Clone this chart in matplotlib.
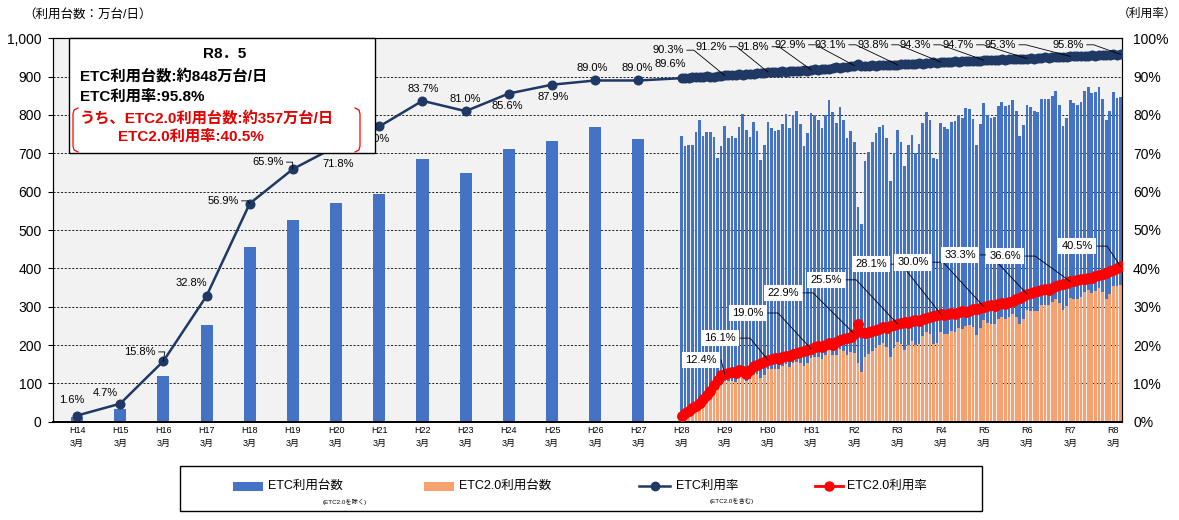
import numpy as np
import matplotlib
matplotlib.use('Agg')
import matplotlib.pyplot as plt
from matplotlib.patches import Rectangle
from matplotlib.lines import Line2D

plt.rcParams['font.family'] = ['Liberation Sans', 'Noto Sans CJK JP']

# ---- data ----
year_labels = ['H14', 'H15', 'H16', 'H17', 'H18', 'H19', 'H20', 'H21', 'H22', 'H23',
               'H24', 'H25', 'H26', 'H27', 'H28', 'H29', 'H30', 'H31', 'R2', 'R3',
               'R4', 'R5', 'R6', 'R7', 'R8']

# annual values H14.3 - H27.3
annual_etc_count = [13, 34, 120, 253, 456, 526, 570, 594, 685, 648, 711, 732, 768, 737]
annual_etc_rate = [1.6, 4.7, 15.8, 32.8, 56.9, 65.9, 71.8, 77.0, 83.7, 81.0, 85.6, 87.9, 89.0, 89.0]

# monthly values H28.3 - R8.5 (123 months)
monthly_etc_total = [
    746, 720, 722, 722, 756, 787, 746, 756, 756, 743,
    687, 720, 772, 740, 746, 740, 769, 803, 761, 743,
    782, 759, 683, 722, 782, 767, 759, 761, 777, 803,
    767, 800, 810, 776, 720, 753, 805, 800, 787, 766,
    800, 839, 808, 778, 821, 787, 741, 757, 730, 560,
    515, 679, 704, 730, 753, 769, 774, 741, 627, 702,
    761, 730, 668, 722, 748, 702, 725, 779, 808, 787,
    689, 686, 779, 769, 764, 782, 784, 800, 792, 818,
    816, 790, 722, 777, 831, 800, 792, 795, 823, 834,
    823, 826, 839, 810, 746, 774, 826, 821, 810, 808,
    841, 841, 841, 849, 862, 826, 772, 792, 839, 831,
    826, 834, 862, 873, 857, 859, 873, 841, 787, 810,
    859, 844, 848]

monthly_etc20_count = [
    12, 18, 23, 28, 35, 44, 50, 59, 67, 78, 84, 97, 106,
    105, 107, 103, 115, 117, 105, 111, 124, 124, 114, 123, 138,
    137, 138, 137, 144, 151, 143, 154, 157, 154, 145, 154, 167,
    169, 169, 163, 175, 187, 175, 175, 190, 184, 175, 181, 180,
    154, 130, 170, 177, 185, 193, 200, 205, 194, 168, 191, 208,
    202, 186, 200, 211, 199, 203, 224, 233, 230, 202, 204, 233,
    228, 228, 237, 235, 244, 243, 250, 252, 246, 226, 244, 264,
    257, 256, 255, 269, 274, 267, 274, 280, 274, 255, 268, 291,
    290, 289, 290, 304, 305, 305, 313, 320, 310, 291, 302, 322,
    321, 320, 325, 337, 344, 335, 342, 350, 338, 320, 333, 355, 353, 357]

monthly_etc_rate = [
    89.6, 89.7, 89.6, 89.8, 89.9, 89.8, 90.0, 90.1, 89.9, 90.0, 90.2, 90.1, 90.3,
    90.4, 90.3, 90.5, 90.6, 90.4, 90.7, 90.8, 90.6, 90.9, 91.0, 90.9, 91.2,
    91.1, 91.3, 91.2, 91.4, 91.3, 91.5, 91.4, 91.6, 91.5, 91.7, 91.6, 91.8,
    91.9, 91.8, 92.0, 92.1, 92.0, 92.3, 92.4, 92.3, 92.5, 92.6, 92.7, 92.9,
    93.2, 92.9, 92.8, 92.9, 93.0, 92.9, 93.0, 93.1, 93.0, 93.1, 93.0, 93.1,
    93.2, 93.3, 93.2, 93.4, 93.3, 93.5, 93.4, 93.6, 93.5, 93.7, 93.6, 93.8,
    93.8, 93.9, 93.8, 94.0, 93.9, 94.0, 94.1, 94.0, 94.2, 94.1, 94.2, 94.3,
    94.3, 94.4, 94.3, 94.4, 94.5, 94.4, 94.5, 94.6, 94.5, 94.6, 94.7, 94.7,
    94.8, 94.7, 94.9, 94.8, 95.0, 94.9, 95.0, 95.1, 95.0, 95.2, 95.1, 95.3,
    95.3, 95.4, 95.3, 95.5, 95.4, 95.6, 95.5, 95.6, 95.7, 95.6, 95.7, 95.8, 95.7, 95.8]

monthly_etc20_rate = [
    1.5, 2.2, 2.8, 3.5, 4.2, 5.0, 6.0, 7.0, 8.0, 9.5, 11.0, 12.2, 12.4,
    12.8, 13.0, 12.6, 13.5, 13.2, 12.5, 13.6, 14.4, 14.8, 15.2, 15.5, 16.1,
    16.3, 16.6, 16.4, 16.9, 17.2, 17.1, 17.6, 17.8, 18.2, 18.4, 18.7, 19.0,
    19.4, 19.7, 19.6, 20.1, 20.5, 20.0, 20.8, 21.3, 21.6, 21.8, 22.2, 22.9,
    25.6, 23.5, 23.2, 23.3, 23.6, 23.8, 24.2, 24.6, 24.4, 25.0, 25.3, 25.5,
    25.8, 26.0, 25.8, 26.3, 26.5, 26.2, 26.8, 27.0, 27.3, 27.5, 27.8, 28.1,
    27.8, 28.0, 28.4, 28.2, 28.6, 28.8, 28.7, 29.0, 29.3, 29.5, 29.6, 30.0,
    30.3, 30.5, 30.2, 30.8, 31.0, 30.6, 31.3, 31.6, 32.0, 32.3, 32.8, 33.3,
    33.5, 33.8, 34.0, 34.3, 34.5, 34.4, 35.0, 35.3, 35.6, 35.9, 36.2, 36.6,
    36.8, 37.0, 37.1, 37.3, 37.6, 37.4, 38.0, 38.3, 38.5, 38.9, 39.3, 39.6, 40.0, 40.5]

BLUE = '#4472C4'
ORANGE = '#F8A170'
NAVY = '#1F3864'

W, H = 1179, 520
def fx(px): return px / W
def fy(py): return 1 - py / H

annual_pos = np.arange(len(annual_etc_count))
monthly_pos = len(annual_etc_count) + np.arange(len(monthly_etc_total)) / 12
total = np.array(monthly_etc_total)
etc20 = np.array(monthly_etc20_count)

fig = plt.figure(figsize=(W / 100, H / 100), dpi=100)
ax = fig.add_axes([fx(53), fy(421.7), (1122 - 53) / W, (421.7 - 38.3) / H])
ax.set_facecolor('#F2F2F2')

ax.bar(annual_pos, annual_etc_count, width=0.28, color=BLUE, lw=0, zorder=2)
ax.bar(monthly_pos, etc20, width=0.062, color=ORANGE, lw=0, zorder=2)
ax.bar(monthly_pos, total - etc20, bottom=etc20, width=0.062, color=BLUE, lw=0, zorder=2)

ax.set_xlim(-0.556, 24.2)
ax.set_ylim(0, 1000)
ax.set_yticks(range(0, 1001, 100))
ax.set_yticklabels([f'{v:,}' for v in range(0, 1001, 100)])
ax.yaxis.grid(True, color='black', linestyle=(0, (2.5, 2)), linewidth=0.6)
ax.set_axisbelow(True)
ax.set_xticks(range(len(year_labels)))
ax.set_xticklabels([f'{y}\n3月' for y in year_labels], fontsize=6.5, linespacing=1.6)
ax.tick_params(axis='x', length=0, pad=3)
ax.tick_params(axis='y', length=3.6, pad=4.5, labelsize=10)

ax2 = ax.twinx()
ax2.set_ylim(0, 100)
ax2.set_yticks(range(0, 101, 10))
ax2.set_yticklabels([f'{v}%' for v in range(0, 101, 10)])
ax2.tick_params(axis='y', length=0, pad=8, labelsize=10)
for a in (ax, ax2):
    for s in a.spines.values():
        s.set_color('black')
        s.set_linewidth(0.8)
    a.spines['bottom'].set_linewidth(1.3)

rate_x = np.concatenate([annual_pos, monthly_pos])
rate_y = list(annual_etc_rate) + list(monthly_etc_rate)
ax2.plot(rate_x, rate_y, color=NAVY, lw=1.8, marker='o', ms=6.2, zorder=3)
ax2.plot(monthly_pos, monthly_etc20_rate, color='red', lw=2, marker='o', ms=6.8, zorder=4)

# ---- data labels ----
lab_font = dict(fontsize=8, ha='center', va='center', zorder=7, clip_on=False)
leaders = []  # (text artist, point x, point y, dash px, use bbox patch)

annual_lab_pos = [(-0.12, 5.7), (0.65, 7.5), (1.46, 18.2), (2.66, 36.2), (3.38, 57.6),
                  (4.42, 67.7), (6.04, 67.2), (6.88, 73.7), (8.01, 86.8), (8.99, 84.2),
                  (9.96, 82.3), (11.02, 84.7), (11.93, 92.3), (12.97, 92.3)]
annual_lead = {2, 4, 5}
for i, (lx, ly) in enumerate(annual_lab_pos):
    t = ax2.text(lx, ly, f'{annual_etc_rate[i]:.1f}%', **lab_font)
    if i in annual_lead:
        leaders.append((t, annual_pos[i], annual_etc_rate[i], 6, False))

etc_lab = [(0, 13.73, 93.3), (12, 13.69, 96.9), (24, 14.68, 97.8), (36, 15.66, 97.8),
           (48, 16.51, 98.3), (60, 17.44, 98.3), (72, 18.43, 98.3), (84, 19.41, 98.3),
           (96, 20.40, 98.3), (108, 21.38, 98.3), (122, 22.95, 98.3)]
for idx, lx, ly in etc_lab:
    t = ax2.text(lx, ly, f'{monthly_etc_rate[idx]:.1f}%', **lab_font)
    if idx != 0:
        leaders.append((t, monthly_pos[idx], monthly_etc_rate[idx], 7, False))

etc20_lab = [(12, 14.45, 16.1), (24, 14.89, 21.8), (36, 15.54, 28.35), (48, 16.35, 33.6),
             (60, 17.35, 37.0), (72, 18.39, 41.1), (84, 19.36, 41.6), (96, 20.45, 43.5),
             (108, 21.49, 43.2), (122, 23.16, 45.8)]
for idx, lx, ly in etc20_lab:
    t = ax2.text(lx, ly, f'{monthly_etc20_rate[idx]:.1f}%',
                 bbox=dict(boxstyle='square,pad=0.3', fc='white', ec='none'), **lab_font)
    leaders.append((t, monthly_pos[idx], monthly_etc20_rate[idx], 0 if idx == 12 else 10, True))

fig.canvas.draw()
inv = ax2.transData.inverted()
for t, px_, py_, dash, boxed in leaders:
    bb = t.get_bbox_patch().get_window_extent() if boxed else t.get_window_extent()
    x0 = bb.x1 + (1 if boxed else 3)
    y0 = (bb.y0 + bb.y1) / 2
    xp, yp = ax2.transData.transform((px_, py_))
    pts = inv.transform([(x0, y0), (x0 + dash, y0), (xp, yp)])
    ax2.plot(pts[:, 0], pts[:, 1], color='black', lw=0.6, zorder=5, clip_on=False)

# ---- header texts ----
fig.text(fx(23), fy(15), '（利用台数：万台/日）', fontsize=9, va='center', ha='left')
fig.text(fx(1177), fy(14), '（利用率）', fontsize=8.5, va='center', ha='right')

# ---- summary box ----
fig.add_artist(Rectangle((fx(69), fy(153)), (375 - 69) / W, (153 - 38) / H,
                         transform=fig.transFigure, fc='white', ec='black', lw=1, zorder=10))
bold = dict(fontsize=11, fontweight='bold', va='center', zorder=11)
fig.text(fx(225), fy(54), 'R8．5', ha='center', **bold)
fig.text(fx(80), fy(76), 'ETC利用台数:約848万台/日', ha='left', **bold)
fig.text(fx(80), fy(97), 'ETC利用率:95.8%', ha='left', **bold)
fig.text(fx(80), fy(118), 'うち、ETC2.0利用台数:約357万台/日', ha='left', color='#E00000', **bold)
fig.text(fx(118), fy(137), 'ETC2.0利用率:40.5%', ha='left', color='#E00000', **bold)
lb_x = [78, 74, 73, 73, 74, 78]
rb_x = [355, 359, 360, 360, 359, 355]
br_y = [108, 110, 114, 146, 150, 152]
for bx in (lb_x, rb_x):
    fig.add_artist(Line2D([fx(v) for v in bx], [fy(v) for v in br_y],
                          transform=fig.transFigure, color='red', lw=0.9, zorder=11))

# ---- legend ----
fig.add_artist(Rectangle((fx(180), fy(511)), (982 - 180) / W, (511 - 466) / H,
                         transform=fig.transFigure, fc='white', ec='black', lw=1, zorder=1))
fig.add_artist(Rectangle((fx(233), fy(491)), 30 / W, 9 / H, transform=fig.transFigure,
                         fc=BLUE, ec='none', zorder=2))
fig.add_artist(Rectangle((fx(424), fy(491)), 30 / W, 9 / H, transform=fig.transFigure,
                         fc=ORANGE, ec='none', zorder=2))
fig.add_artist(Line2D([fx(639), fx(670)], [fy(486)] * 2, transform=fig.transFigure,
                      color=NAVY, lw=1.8, zorder=2))
fig.add_artist(Line2D([fx(654.5)], [fy(486)], transform=fig.transFigure,
                      color=NAVY, marker='o', ms=6, zorder=2))
fig.add_artist(Line2D([fx(815), fx(843)], [fy(486)] * 2, transform=fig.transFigure,
                      color='red', lw=2, zorder=2))
fig.add_artist(Line2D([fx(829)], [fy(486)], transform=fig.transFigure,
                      color='red', marker='o', ms=6.5, zorder=2))
leg_font = dict(fontsize=9, va='center', ha='left', zorder=3)
fig.text(fx(268), fy(486), 'ETC利用台数', **leg_font)
fig.text(fx(459), fy(486), 'ETC2.0利用台数', **leg_font)
fig.text(fx(676), fy(486), 'ETC利用率', **leg_font)
fig.text(fx(847), fy(486), 'ETC2.0利用率', **leg_font)
fig.text(fx(345), fy(502), '(ETC2.0を除く)', fontsize=4.5, ha='center', va='center', zorder=3)
fig.text(fx(732), fy(501), '(ETC2.0を含む)', fontsize=4.5, ha='center', va='center', zorder=3)

fig.savefig('out.png', dpi=100)
